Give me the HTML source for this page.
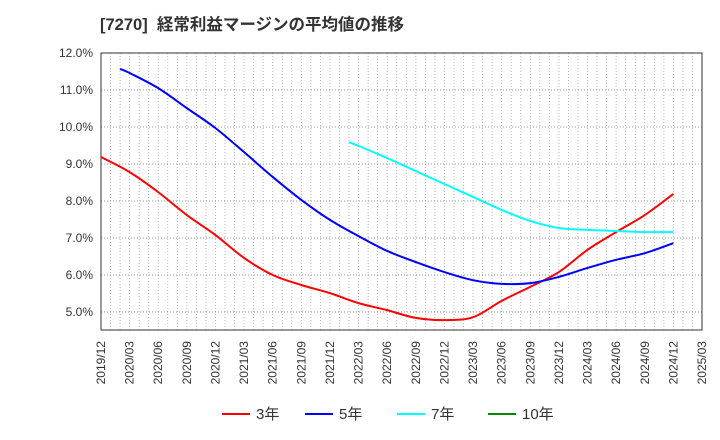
<!DOCTYPE html>
<html><head><meta charset="utf-8"><style>
body{margin:0;background:#fff;}
svg{display:block;font-family:"Liberation Sans","Noto Sans CJK JP",sans-serif;}
</style></head><body>
<svg id="c" width="720" height="440">
<text x="100" y="30" font-size="16.5" font-weight="bold" fill="#333">[7270]&#160; 経常利益マージンの平均値の推移</text>
<g id="grid"></g><g id="axes"></g><g id="series"></g>
<g>
<line x1="222" y1="414" x2="250" y2="414" stroke="#f00" stroke-width="2"/><text x="256" y="419" font-size="15" fill="#333">3年</text>
<line x1="305" y1="414" x2="333" y2="414" stroke="#00f" stroke-width="2"/><text x="339" y="419" font-size="15" fill="#333">5年</text>
<line x1="397" y1="414" x2="425" y2="414" stroke="#0ff" stroke-width="2"/><text x="431" y="419" font-size="15" fill="#333">7年</text>
<line x1="488" y1="414" x2="516" y2="414" stroke="#080" stroke-width="2"/><text x="522" y="419" font-size="15" fill="#333">10年</text>
</g>
</svg>
<script>
const xLabels=["2019/12","2020/03","2020/06","2020/09","2020/12","2021/03","2021/06","2021/09","2021/12","2022/03","2022/06","2022/09","2022/12","2023/03","2023/06","2023/09","2023/12","2024/03","2024/06","2024/09","2024/12","2025/03"];
const yTicks=[5,6,7,8,9,10,11,12];
const s3Months=[0,3,6,9,12,15,18,21,24,27,30,33,36,39,42,45,48,51,54,57,60];
const s3Vals=[9.19,8.78,8.24,7.62,7.08,6.46,6.0,5.73,5.51,5.24,5.05,4.84,4.78,4.86,5.3,5.68,6.08,6.68,7.16,7.62,8.19];
const s5Months=[2,3,6,9,12,15,18,21,24,27,30,33,36,39,42,45,48,51,54,57,60];
const s5Vals=[11.57,11.46,11.05,10.51,9.97,9.32,8.65,8.03,7.49,7.05,6.65,6.35,6.08,5.86,5.76,5.78,5.95,6.19,6.41,6.59,6.86];
const s7Months=[26,27,30,33,36,39,42,45,48,51,54,57,60];
const s7Vals=[9.59,9.49,9.16,8.81,8.46,8.11,7.76,7.46,7.27,7.22,7.19,7.16,7.16];
const L=101,R=702,T=53,B=330,NS="http://www.w3.org/2000/svg";
const xm=m=>L+(R-L)*m/63;
const y=v=>312-(v-5)*37;
function el(t,a,p){const e=document.createElementNS(NS,t);for(const k in a)e.setAttribute(k,a[k]);p.appendChild(e);return e;}
const g=document.getElementById('grid'),ax=document.getElementById('axes'),sg=document.getElementById('series');
for(let m=1;m<63;m++){const l=el('line',{x1:xm(m),x2:xm(m),y1:T,y2:B,stroke:'#aaa','stroke-dasharray':'1,2','stroke-width':0.8},g);

}
yTicks.forEach(v=>{const l=el('line',{x1:L,x2:R,y1:y(v),y2:y(v),stroke:'#999','stroke-dasharray':'1,2'},g);


const t=el('text',{x:93,y:y(v)+4,'font-size':12,fill:'#333','text-anchor':'end'},ax);t.textContent=v.toFixed(1)+'%';

});
const fr=el('rect',{x:L,y:T,width:R-L,height:B-T,fill:'none',stroke:'#333'},ax);


xLabels.forEach((s,i)=>{const x=xm(i*3);const t=el('text',{x:0,y:0,'font-size':12,fill:'#333','text-anchor':'end',transform:`translate(${x+4},341) rotate(-90)`},ax);t.textContent=s;

});
function line(ms,vs,c,n){const P=ms.map((m,i)=>[xm(m),y(vs[i])]);let d='M'+P[0][0]+','+P[0][1];
for(let i=0;i<P.length-1;i++){const p0=P[i-1]||P[i],p1=P[i],p2=P[i+1],p3=P[i+2]||p2;
const c1=[p1[0]+(p2[0]-p0[0])/6,p1[1]+(p2[1]-p0[1])/6],c2=[p2[0]-(p3[0]-p1[0])/6,p2[1]-(p3[1]-p1[1])/6];
d+=` C${c1[0]},${c1[1]} ${c2[0]},${c2[1]} ${p2[0]},${p2[1]}`;}
const p=el('path',{d:d,fill:'none',stroke:c,'stroke-width':2,'stroke-linejoin':'round'},sg);

}
line(s3Months,s3Vals,'#f00','series-3yr');
line(s5Months,s5Vals,'#00f','series-5yr');
line(s7Months,s7Vals,'#0ff','series-7yr');
</script>
</body></html>
